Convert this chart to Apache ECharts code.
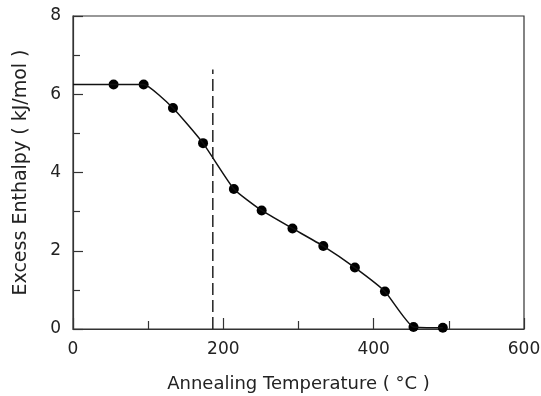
<!DOCTYPE html>
<html><head><meta charset="utf-8">
<script src="https://cdn.jsdelivr.net/npm/echarts@6/dist/echarts.min.js"></script>
<style>html,body{margin:0;padding:0;background:#fff}#c{width:541px;height:396px}</style>
</head><body><div id="c"></div>
<script>
const temps = [54, 94, 133, 173, 214, 251, 292, 333, 375, 415, 453, 492];
const enthalpy = [6.25, 6.25, 5.65, 4.75, 3.58, 3.03, 2.57, 2.12, 1.57, 0.96, 0.05, 0.03];
const startLevel = [0, 6.25];
const dashX = 186;
const dashTop = 6.63;
const xTicks = [0, 200, 400, 600];
const yTicks = [0, 2, 4, 6, 8];

const lineData = [startLevel].concat(temps.map((t, i) => [t, enthalpy[i]]));
const pointData = temps.map((t, i) => [t, enthalpy[i]]);
const font = 'DejaVu Sans';
const chart = echarts.init(document.getElementById('c'));
chart.setOption({
  animation: false,
  grid: {left: 73, right: 17, top: 16, bottom: 67, show: true, borderColor: '#333', borderWidth: 1.2,
         backgroundColor: 'transparent', containLabel: false, outerBoundsMode: 'none'},
  xAxis: {
    type: 'value', min: xTicks[0], max: xTicks[xTicks.length - 1], interval: 200,
    name: 'Annealing Temperature ( °C )', nameLocation: 'middle', nameGap: 46,
    nameTextStyle: {fontFamily: font, fontSize: 18, color: '#222'},
    axisLine: {show: true, lineStyle: {color: '#333', width: 1.2}},
    axisTick: {show: true, inside: true, length: 11, lineStyle: {color: '#333', width: 1.2}},
    minorTick: {show: true, splitNumber: 2, length: 8, lineStyle: {color: '#333', width: 1.2}},
    axisLabel: {fontFamily: font, fontSize: 17, color: '#222', margin: 12},
    splitLine: {show: false}
  },
  yAxis: {
    type: 'value', min: yTicks[0], max: yTicks[yTicks.length - 1], interval: 2,
    name: 'Excess Enthalpy ( kJ/mol )', nameLocation: 'middle', nameGap: 42,
    nameTextStyle: {fontFamily: font, fontSize: 19, color: '#222'},
    axisLine: {show: true, lineStyle: {color: '#333', width: 1.2}},
    axisTick: {show: true, inside: true, length: 10, lineStyle: {color: '#333', width: 1.2}},
    minorTick: {show: true, splitNumber: 2, length: 7, lineStyle: {color: '#333', width: 1.2}},
    axisLabel: {fontFamily: font, fontSize: 17, color: '#222', margin: 12},
    splitLine: {show: false}
  },
  series: [
    {type: 'line', data: lineData, showSymbol: false, symbol: 'none', smooth: 0.15,
     lineStyle: {color: '#111', width: 1.5}},
    {type: 'scatter', data: pointData, symbol: 'circle', symbolSize: 10,
     itemStyle: {color: '#000', opacity: 1}},
    {type: 'line', data: [[dashX, 0], [dashX, dashTop]], symbol: 'none',
     lineStyle: {color: '#222', width: 1.5, type: [12, 5]}}
  ]
});
</script></body></html>
